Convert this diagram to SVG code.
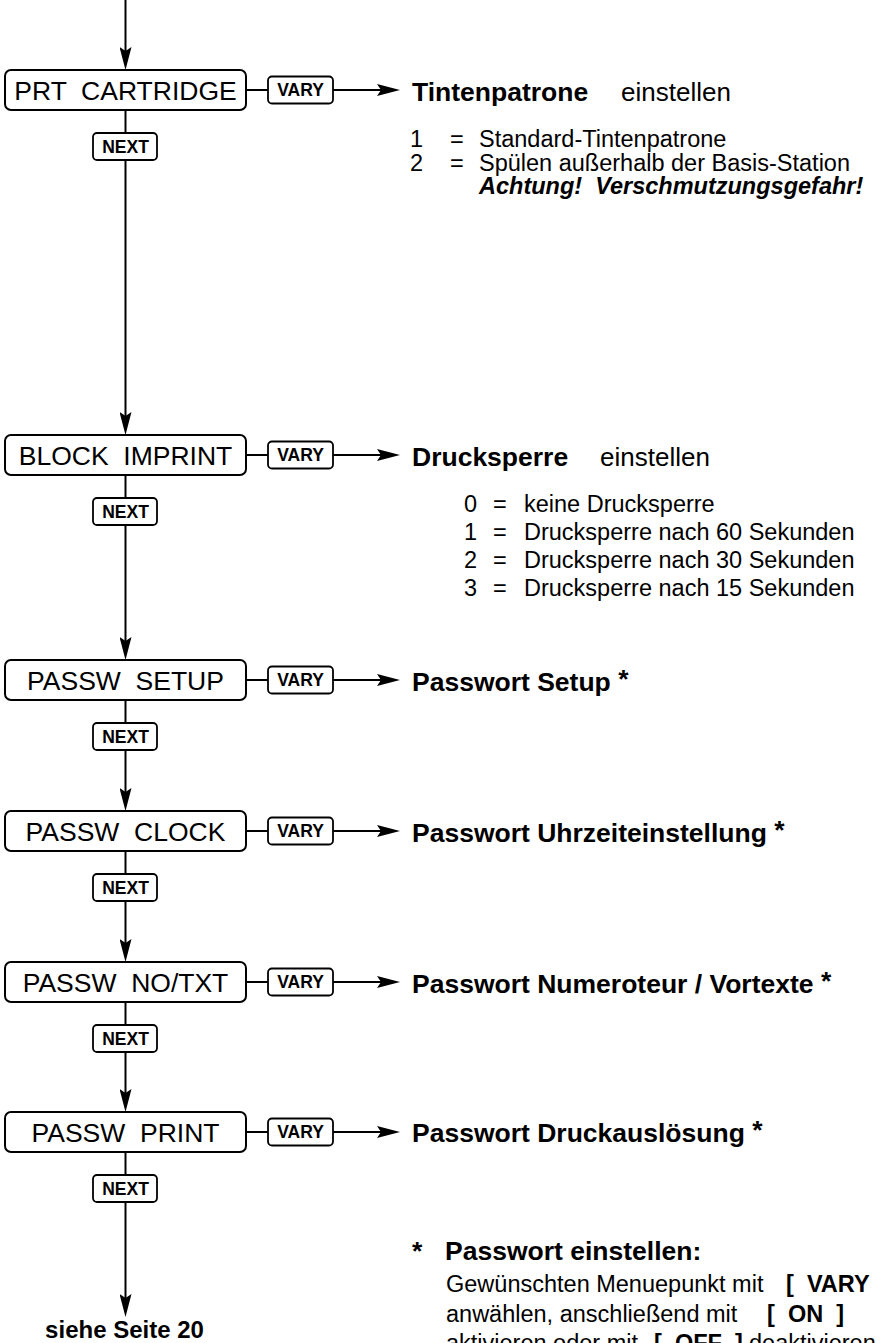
<svg xmlns="http://www.w3.org/2000/svg" width="880" height="1343" viewBox="0 0 880 1343">
<style>
text{font-family:"Liberation Sans",Arial,sans-serif;fill:#000}
.box{fill:#fff;stroke:#000;stroke-width:2}
.key{fill:#fff;stroke:#000;stroke-width:1.8}
.lbl{font-size:26.5px;text-anchor:middle}
.keyt{font-size:17.5px;font-weight:bold;text-anchor:middle}
.ttl{font-size:26.5px;font-weight:bold}
.reg{font-size:26px;font-weight:normal}
.lst{font-size:23.5px}
.b{font-weight:bold}
.line{stroke:#000;stroke-width:2;fill:none}
.arr{stroke:#000;stroke-width:2;fill:none;marker-end:url(#ah)}
</style>
<defs>
<marker id="ah" markerUnits="userSpaceOnUse" markerWidth="23" markerHeight="12" viewBox="0 0 23 12" refX="14" refY="6" orient="auto">
<path d="M0,0 L23,6 L0,12 L4,6 z" fill="#000"/>
</marker>
</defs>
<g id="connectors">
<line class="arr" x1="125.5" y1="0" x2="125.5" y2="61"/>
<line class="line" x1="125.5" y1="110" x2="125.5" y2="160"/>
<line class="arr" x1="125.5" y1="160" x2="125.5" y2="426"/>
<line class="line" x1="125.5" y1="475" x2="125.5" y2="525"/>
<line class="arr" x1="125.5" y1="525" x2="125.5" y2="651"/>
<line class="line" x1="125.5" y1="700" x2="125.5" y2="750"/>
<line class="arr" x1="125.5" y1="750" x2="125.5" y2="802"/>
<line class="line" x1="125.5" y1="851" x2="125.5" y2="901"/>
<line class="arr" x1="125.5" y1="901" x2="125.5" y2="953"/>
<line class="line" x1="125.5" y1="1002" x2="125.5" y2="1052"/>
<line class="arr" x1="125.5" y1="1052" x2="125.5" y2="1103"/>
<line class="line" x1="125.5" y1="1152" x2="125.5" y2="1202"/>
<line class="arr" x1="125.5" y1="1202" x2="125.5" y2="1308"/>
<line class="line" x1="246" y1="90" x2="268" y2="90"/>
<line class="arr" x1="333" y1="90" x2="391" y2="90"/>
<line class="line" x1="246" y1="455" x2="268" y2="455"/>
<line class="arr" x1="333" y1="455" x2="391" y2="455"/>
<line class="line" x1="246" y1="680" x2="268" y2="680"/>
<line class="arr" x1="333" y1="680" x2="391" y2="680"/>
<line class="line" x1="246" y1="831" x2="268" y2="831"/>
<line class="arr" x1="333" y1="831" x2="391" y2="831"/>
<line class="line" x1="246" y1="982" x2="268" y2="982"/>
<line class="arr" x1="333" y1="982" x2="391" y2="982"/>
<line class="line" x1="246" y1="1132" x2="268" y2="1132"/>
<line class="arr" x1="333" y1="1132" x2="391" y2="1132"/>
</g>
<g id="prt-cartridge">
<rect class="box" x="5" y="70" width="241" height="40" rx="6"/>
<text class="lbl" x="125.5" y="100" xml:space="preserve">PRT  CARTRIDGE</text>
<rect class="key" x="268" y="76.5" width="65" height="27" rx="4"/>
<text class="keyt" x="300.5" y="96">VARY</text>
<rect class="key" x="93" y="133" width="64" height="27" rx="4"/>
<text class="keyt" x="125.5" y="153">NEXT</text>
<text class="ttl" x="412" y="101">Tintenpatrone<tspan class="reg" x="621">einstellen</tspan></text>
<text class="lst" x="410" y="147">1</text><text class="lst" x="450" y="147">=</text><text class="lst" x="479" y="147">Standard-Tintenpatrone</text>
<text class="lst" x="410" y="170.5">2</text><text class="lst" x="450" y="170.5">=</text><text class="lst" x="479" y="170.5">Spülen außerhalb der Basis-Station</text>
<text class="lst b" x="479" y="194" font-style="italic" xml:space="preserve">Achtung!  Verschmutzungsgefahr!</text>
</g>
<g id="block-imprint">
<rect class="box" x="5" y="435" width="241" height="40" rx="6"/>
<text class="lbl" x="125.5" y="465" xml:space="preserve">BLOCK  IMPRINT</text>
<rect class="key" x="268" y="441.5" width="65" height="27" rx="4"/>
<text class="keyt" x="300.5" y="461">VARY</text>
<rect class="key" x="93" y="498" width="64" height="27" rx="4"/>
<text class="keyt" x="125.5" y="518">NEXT</text>
<text class="ttl" x="412" y="465.5">Drucksperre<tspan class="reg" x="600">einstellen</tspan></text>
<text class="lst" x="464" y="511.5">0</text><text class="lst" x="493" y="511.5">=</text><text class="lst" x="524" y="511.5">keine Drucksperre</text>
<text class="lst" x="464" y="539.5">1</text><text class="lst" x="493" y="539.5">=</text><text class="lst" x="524" y="539.5">Drucksperre nach 60 Sekunden</text>
<text class="lst" x="464" y="567.5">2</text><text class="lst" x="493" y="567.5">=</text><text class="lst" x="524" y="567.5">Drucksperre nach 30 Sekunden</text>
<text class="lst" x="464" y="595.5">3</text><text class="lst" x="493" y="595.5">=</text><text class="lst" x="524" y="595.5">Drucksperre nach 15 Sekunden</text>
</g>
<g id="passw-setup">
<rect class="box" x="5" y="660" width="241" height="40" rx="6"/>
<text class="lbl" x="125.5" y="690" xml:space="preserve">PASSW  SETUP</text>
<rect class="key" x="268" y="666.5" width="65" height="27" rx="4"/>
<text class="keyt" x="300.5" y="686">VARY</text>
<rect class="key" x="93" y="723" width="64" height="27" rx="4"/>
<text class="keyt" x="125.5" y="743">NEXT</text>
<text class="ttl" x="412" y="690.5" xml:space="preserve">Passwort Setup <tspan dy="-3">*</tspan></text>
</g>
<g id="passw-clock">
<rect class="box" x="5" y="811" width="241" height="40" rx="6"/>
<text class="lbl" x="125.5" y="841" xml:space="preserve">PASSW  CLOCK</text>
<rect class="key" x="268" y="817.5" width="65" height="27" rx="4"/>
<text class="keyt" x="300.5" y="837">VARY</text>
<rect class="key" x="93" y="874" width="64" height="27" rx="4"/>
<text class="keyt" x="125.5" y="894">NEXT</text>
<text class="ttl" x="412" y="841.5" xml:space="preserve">Passwort Uhrzeiteinstellung <tspan dy="-3">*</tspan></text>
</g>
<g id="passw-notxt">
<rect class="box" x="5" y="962" width="241" height="40" rx="6"/>
<text class="lbl" x="125.5" y="992" xml:space="preserve">PASSW  NO/TXT</text>
<rect class="key" x="268" y="968.5" width="65" height="27" rx="4"/>
<text class="keyt" x="300.5" y="988">VARY</text>
<rect class="key" x="93" y="1025" width="64" height="27" rx="4"/>
<text class="keyt" x="125.5" y="1045">NEXT</text>
<text class="ttl" x="412" y="992.5" xml:space="preserve">Passwort Numeroteur / Vortexte <tspan dy="-3">*</tspan></text>
</g>
<g id="passw-print">
<rect class="box" x="5" y="1112" width="241" height="40" rx="6"/>
<text class="lbl" x="125.5" y="1142" xml:space="preserve">PASSW  PRINT</text>
<rect class="key" x="268" y="1118.5" width="65" height="27" rx="4"/>
<text class="keyt" x="300.5" y="1138">VARY</text>
<rect class="key" x="93" y="1175" width="64" height="27" rx="4"/>
<text class="keyt" x="125.5" y="1195">NEXT</text>
<text class="ttl" x="412" y="1142" xml:space="preserve">Passwort Druckauslösung <tspan dy="-3">*</tspan></text>
</g>
<g id="see-page">
<text class="b" x="124.5" y="1338" font-size="24" text-anchor="middle">siehe Seite 20</text>
</g>
<g id="footnote">
<text class="ttl" x="412" y="1260">*</text>
<text class="ttl" x="445" y="1260">Passwort einstellen:</text>
<text class="lst" x="446" y="1292" xml:space="preserve">Gewünschten Menuepunkt mit<tspan class="b" x="786">[  VARY  ]</tspan></text>
<text class="lst" x="446" y="1321.5" xml:space="preserve">anwählen, anschließend mit<tspan class="b" x="767">[  ON  ]</tspan></text>
<text class="lst" x="446" y="1351" xml:space="preserve">aktivieren oder mit<tspan class="b" x="654">[  OFF  ]</tspan><tspan x="749">deaktivieren</tspan></text>
</g>
</svg>
